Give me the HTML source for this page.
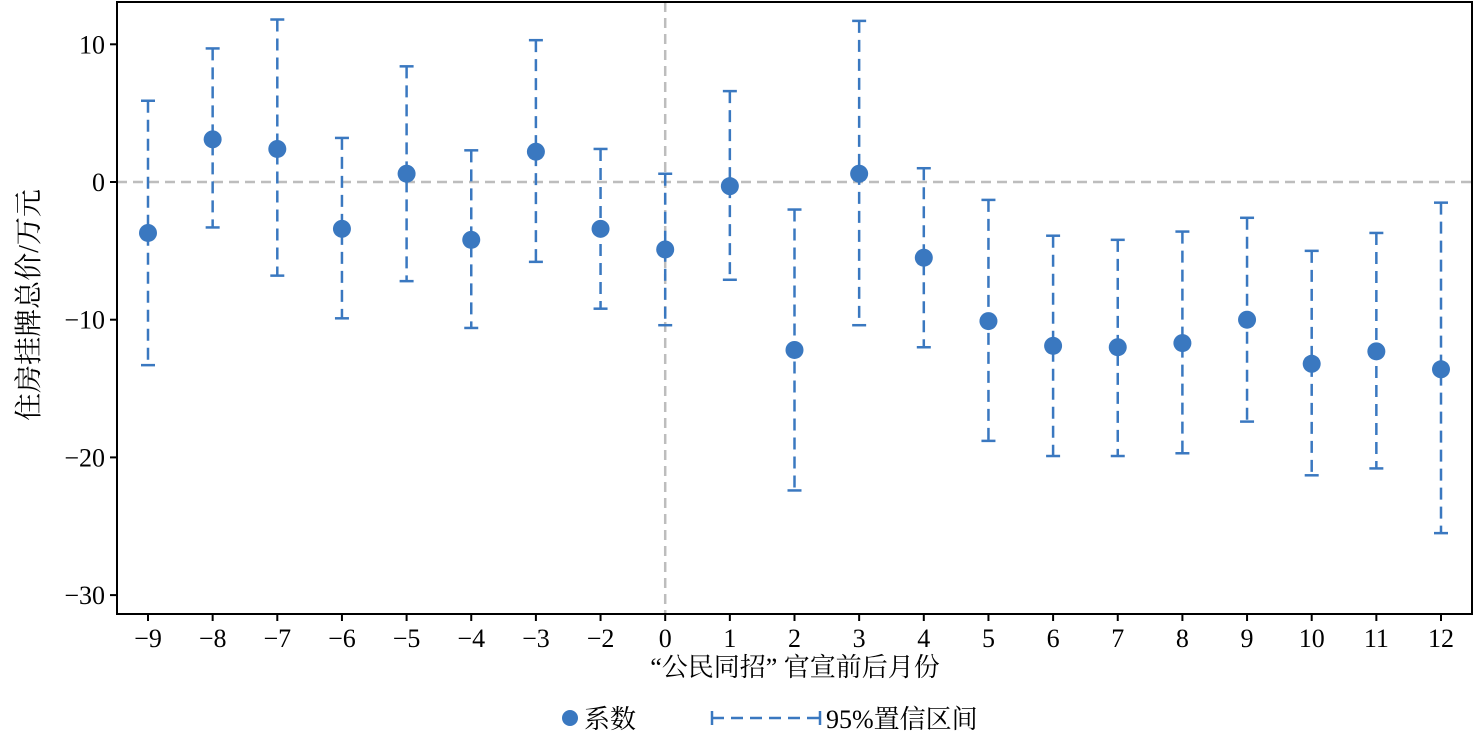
<!DOCTYPE html>
<html><head><meta charset="utf-8"><style>
body{margin:0;background:#fff;}
svg text{font-family:"Liberation Serif","Noto Serif CJK SC","Noto Sans CJK SC",serif;fill:#000;}
</style></head><body>
<svg id="chart" width="1475" height="738" xmlns="http://www.w3.org/2000/svg"></svg>
<script>
const categories=["−9","−8","−7","−6","−5","−4","−3","−2","0","1","2","3","4","5","6","7","8","9","10","11","12"];
const coef=[-3.7,3.1,2.4,-3.4,0.6,-4.2,2.2,-3.4,-4.9,-0.3,-12.2,0.6,-5.5,-10.1,-11.9,-12.0,-11.7,-10.0,-13.2,-12.3,-13.6];
const ciLow=[-13.3,-3.3,-6.8,-9.9,-7.2,-10.6,-5.8,-9.2,-10.4,-7.1,-22.4,-10.4,-12.0,-18.8,-19.9,-19.9,-19.7,-17.4,-21.3,-20.8,-25.5];
const ciHigh=[5.9,9.7,11.8,3.2,8.4,2.3,10.3,2.4,0.6,6.6,-2.0,11.7,1.0,-1.3,-3.9,-4.2,-3.6,-2.6,-5.0,-3.7,-1.5];
const yTicks=[10,0,-10,-20,-30];
const yTickLabels=["10","0","−10","−20","−30"];

const svg=document.getElementById('chart');
const NS="http://www.w3.org/2000/svg";
const L=117,R=1472,T=2,B=614;
const C="#3a78c0";
function x(i){return 148+i*(1441-148)/(categories.length-1);}
function y(v){return 182-v*13.77;}
function el(tag,attrs,parent){const e=document.createElementNS(NS,tag);for(const k in attrs)e.setAttribute(k,attrs[k]);(parent||svg).appendChild(e);return e;}

// reference lines
let z=el('line',{x1:L,x2:R,y1:y(0),y2:y(0),stroke:"#bdbdbd","stroke-width":2.5,"stroke-dasharray":"10,6"});


let v=el('line',{x1:x(8),x2:x(8),y1:T,y2:B,stroke:"#bdbdbd","stroke-width":2.5,"stroke-dasharray":"10,6"});



// frame
let f=el('rect',{x:L,y:T,width:R-L,height:B-T,fill:"none",stroke:"#000","stroke-width":2});



// y ticks
yTicks.forEach((t,i)=>{
  let tk=el('line',{x1:L-7,x2:L,y1:y(t),y2:y(t),stroke:"#000","stroke-width":2});
  
  
  let tx=el('text',{x:L-12,y:y(t)+9,"text-anchor":"end","font-size":26});
  tx.textContent=yTickLabels[i];
  
  
});
// x ticks
categories.forEach((c,i)=>{
  let tk=el('line',{x1:x(i),x2:x(i),y1:B,y2:B+7,stroke:"#000","stroke-width":2});
  
  
  let tx=el('text',{x:x(i),y:B+33,"text-anchor":"middle","font-size":26});
  tx.textContent=c;
  
  
});

// error bars and points
categories.forEach((c,i)=>{
  const g=el('g',{});
  
  
  el('line',{x1:x(i),x2:x(i),y1:y(ciHigh[i]),y2:y(ciLow[i]),stroke:C,"stroke-width":2.5,"stroke-dasharray":"12,7"},g);
  el('line',{x1:x(i)-7,x2:x(i)+7,y1:y(ciHigh[i]),y2:y(ciHigh[i]),stroke:C,"stroke-width":2.5},g);
  el('line',{x1:x(i)-7,x2:x(i)+7,y1:y(ciLow[i]),y2:y(ciLow[i]),stroke:C,"stroke-width":2.5},g);
  let p=el('circle',{cx:x(i),cy:y(coef[i]),r:9,fill:C});
  
  
});

// axis titles
let xt=el('text',{x:795,y:676,"text-anchor":"middle","font-size":26});
xt.textContent="“公民同招” 官宣前后月份";


let yt=el('text',{x:0,y:0,"text-anchor":"middle","font-size":28,transform:"translate(38,305) rotate(-90)"});
yt.textContent="住房挂牌总价/万元";



// legend
const lg=el('g',{});


let lc=el('circle',{cx:570,cy:718,r:8,fill:C},lg);


let lt1=el('text',{x:584,y:728,"font-size":26},lg);
lt1.textContent="系数";


el('line',{x1:712,x2:712,y1:711,y2:725,stroke:C,"stroke-width":2.5},lg);
el('line',{x1:712,x2:820,y1:718,y2:718,stroke:C,"stroke-width":2.5,"stroke-dasharray":"12,7"},lg);
el('line',{x1:820,x2:820,y1:711,y2:725,stroke:C,"stroke-width":2.5},lg);
let lt2=el('text',{x:826,y:728,"font-size":26},lg);
lt2.textContent="95%置信区间";


</script>
</body></html>
